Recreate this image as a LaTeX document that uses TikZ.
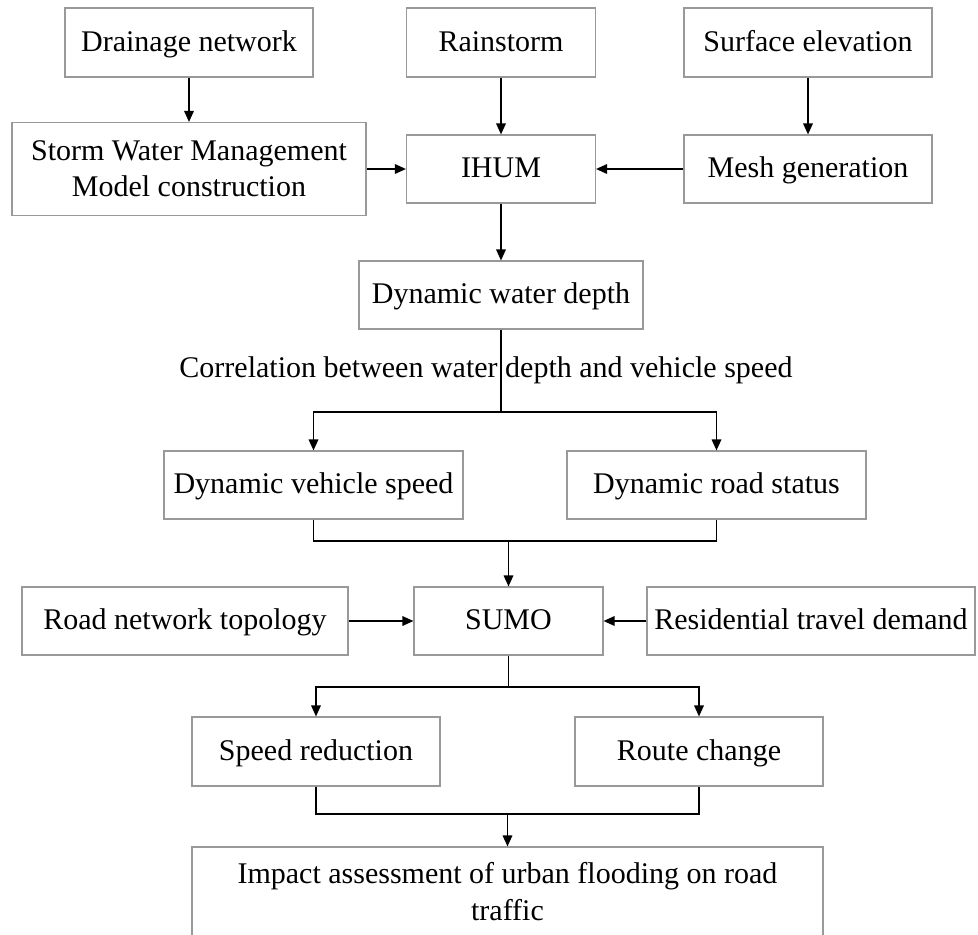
\documentclass[tikz,border=0pt]{standalone}
\usepackage{fontspec}
\setmainfont{Liberation Serif}
\usetikzlibrary{arrows.meta}
\begin{document}
\begin{tikzpicture}[x=1pt,y=-1pt,
  box/.style={draw=black!40, line width=1.1pt, inner sep=0pt, align=center,
    font=\fontsize{30}{36}\selectfont},
  onebox/.style={box, text height=21pt, text depth=4pt},
  link/.style={line width=1.7pt, black},
  arr/.style={link, -{Triangle[length=11pt,width=9.5pt]}}]
\clip (0,0) rectangle (978,935);
\fill[white] (0,0) rectangle (978,935);
% row 1
\node[onebox, minimum width=248pt, minimum height=69pt] (drain) at (189,42.5) {Drainage network};
\node[onebox, minimum width=189pt, minimum height=69pt] (rain) at (501,42.5) {Rainstorm};
\node[onebox, minimum width=248pt, minimum height=69pt] (surf) at (808,42.5) {Surface elevation};
% row 2
\node[box, minimum width=354pt, minimum height=93pt] (swmm) at (189,169) {Storm Water Management\\Model construction};
\node[onebox, minimum width=189pt, minimum height=68pt] (ihum) at (501,169) {IHUM};
\node[onebox, minimum width=248pt, minimum height=68pt] (mesh) at (808,169) {Mesh generation};
% row 3
\node[onebox, minimum width=284pt, minimum height=68pt] (depth) at (501,295) {Dynamic water depth};
\node[font=\fontsize{30}{36}\selectfont, inner sep=0pt] (corr) at (486,370) {Correlation between water depth and vehicle speed};
% row 4
\node[onebox, minimum width=299pt, minimum height=68pt] (vspeed) at (313.5,485) {Dynamic vehicle speed};
\node[onebox, minimum width=299pt, minimum height=68pt] (rstatus) at (716.5,485) {Dynamic road status};
% row 5
\node[onebox, minimum width=326pt, minimum height=68pt] (road) at (185,621) {Road network topology};
\node[onebox, minimum width=189pt, minimum height=68pt] (sumo) at (508.5,621) {SUMO};
\node[onebox, minimum width=328pt, minimum height=68pt] (resid) at (811,621) {Residential travel demand};
% row 6
\node[onebox, minimum width=248pt, minimum height=69pt] (sred) at (316,751.5) {Speed reduction};
\node[onebox, minimum width=248pt, minimum height=69pt] (route) at (699,751.5) {Route change};
% row 7
\node[box, minimum width=631pt, minimum height=96pt] (impact) at (507.5,895) {};
\node[font=\fontsize{30}{37}\selectfont, align=center, inner sep=0pt] (impacttext) at (507.5,891.5) {Impact assessment of urban flooding on road\\traffic};
% junctions
\coordinate (j1) at (501,412);
\coordinate (j2) at (508.5,541);
\coordinate (j3) at (508.5,687);
\coordinate (j4) at (507.5,814);
% connectors
\draw[arr] (drain.south) -- (swmm.north);
\draw[arr] (rain.south) -- (ihum.north);
\draw[arr] (surf.south) -- (mesh.north);
\draw[arr] (swmm.east) -- (ihum.west);
\draw[arr] (mesh.west) -- (ihum.east);
\draw[arr] (ihum.south) -- (depth.north);
\draw[link] (depth.south) -- (j1);
\draw[arr] (j1) -| (vspeed.north);
\draw[arr] (j1) -| (rstatus.north);
\draw[link] (vspeed.south) |- (j2) -| (rstatus.south);
\draw[arr] (j2) -- (sumo.north);
\draw[arr] (road.east) -- (sumo.west);
\draw[arr] (resid.west) -- (sumo.east);
\draw[link] (sumo.south) -- (j3);
\draw[arr] (j3) -| (sred.north);
\draw[arr] (j3) -| (route.north);
\draw[link] (sred.south) |- (j4) -| (route.south);
\draw[arr] (j4) -- (impact.north);
\end{tikzpicture}
\end{document}
